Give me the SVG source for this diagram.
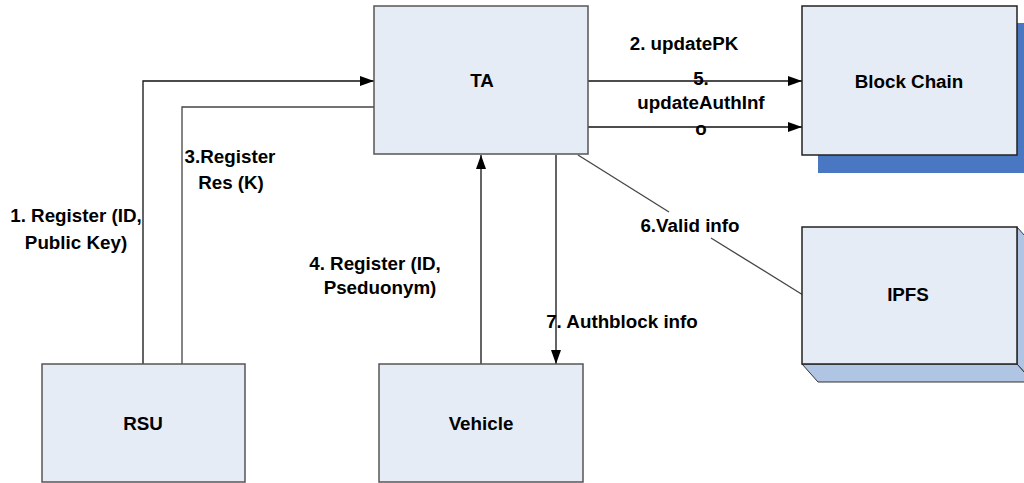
<svg xmlns="http://www.w3.org/2000/svg" width="1024" height="483" viewBox="0 0 1024 483">
  <defs>
    <marker id="arrow" viewBox="0 0 14 10" refX="14" refY="5" markerWidth="14" markerHeight="10" markerUnits="userSpaceOnUse" orient="auto">
      <path d="M0,0 L14,5 L0,10 Z" fill="#000"/>
    </marker>
    <style>
      .box { fill: #E6ECF6; stroke: #555; stroke-width: 1.5; }
      .side { fill: #B0C4E3; stroke: #333; stroke-width: 1; }
      .shadow { fill: #4A77C1; }
      .lbl { font-family: "Liberation Sans", Arial, sans-serif; font-weight: bold; font-size: 18.8px; fill: #000; text-anchor: middle; }
      .line { fill: none; stroke: #444; stroke-width: 1.3; }
      .arr { fill: none; stroke: #111; stroke-width: 1.3; marker-end: url(#arrow); }
    </style>
  </defs>
  <rect width="1024" height="483" fill="#fff"/>

  <!-- connectors -->
  <g id="connectors">
    <!-- RSU to TA: register -->
    <polyline class="arr" points="143,364 143,81 374,81"/>
    <!-- TA to RSU: register response -->
    <polyline class="line" points="374,107 182,107 182,364"/>
    <!-- TA to Block Chain -->
    <line class="arr" x1="588" y1="81" x2="802" y2="81"/>
    <line class="arr" x1="588" y1="127" x2="802" y2="127"/>
    <!-- Vehicle to TA -->
    <line class="arr" x1="481" y1="364" x2="481" y2="155"/>
    <!-- TA to Vehicle -->
    <line class="arr" x1="556" y1="155" x2="556" y2="364"/>
    <!-- TA and IPFS, split around its label -->
    <line class="line" x1="578" y1="155" x2="669" y2="212"/>
    <line class="line" x1="711" y1="238" x2="803" y2="295"/>
  </g>

  <!-- connector labels -->
  <g id="labels">
    <text class="lbl" x="76" y="222">1. Register (ID,</text>
    <text class="lbl" x="76" y="249">Public Key)</text>
    <text class="lbl" x="230" y="163">3.Register</text>
    <text class="lbl" x="231" y="189">Res (K)</text>
    <text class="lbl" x="684" y="50">2. updatePK</text>
    <text class="lbl" x="701" y="85">5.</text>
    <text class="lbl" x="701" y="109">updateAuthInf</text>
    <text class="lbl" x="701" y="135">o</text>
    <text class="lbl" x="690" y="232">6.Valid info</text>
    <text class="lbl" x="375" y="270">4. Register (ID,</text>
    <text class="lbl" x="380" y="294">Pseduonym)</text>
    <text class="lbl" x="622" y="328">7. Authblock info</text>
  </g>

  <g id="node-ta">
    <rect class="box" x="374" y="6" width="214" height="148"/>
    <text class="lbl" x="482" y="87">TA</text>
  </g>

  <g id="node-blockchain">
    <rect class="shadow" x="818" y="23" width="215" height="150"/>
    <rect class="box" x="802" y="6" width="215" height="149" style="stroke:#222"/>
    <text class="lbl" x="909" y="88">Block Chain</text>
  </g>

  <g id="node-ipfs">
    <polygon class="side" points="1017,227 1033,245 1033,382 1017,364"/>
    <polygon class="side" points="802,364 1017,364 1033,382 818,382"/>
    <rect class="box" x="802" y="227" width="215" height="137" style="stroke:#222"/>
    <text class="lbl" x="908" y="301">IPFS</text>
  </g>

  <g id="node-rsu">
    <rect class="box" x="42" y="364" width="203" height="118"/>
    <text class="lbl" x="143" y="430">RSU</text>
  </g>

  <g id="node-vehicle">
    <rect class="box" x="379" y="364" width="204" height="118"/>
    <text class="lbl" x="481" y="430">Vehicle</text>
  </g>
</svg>
